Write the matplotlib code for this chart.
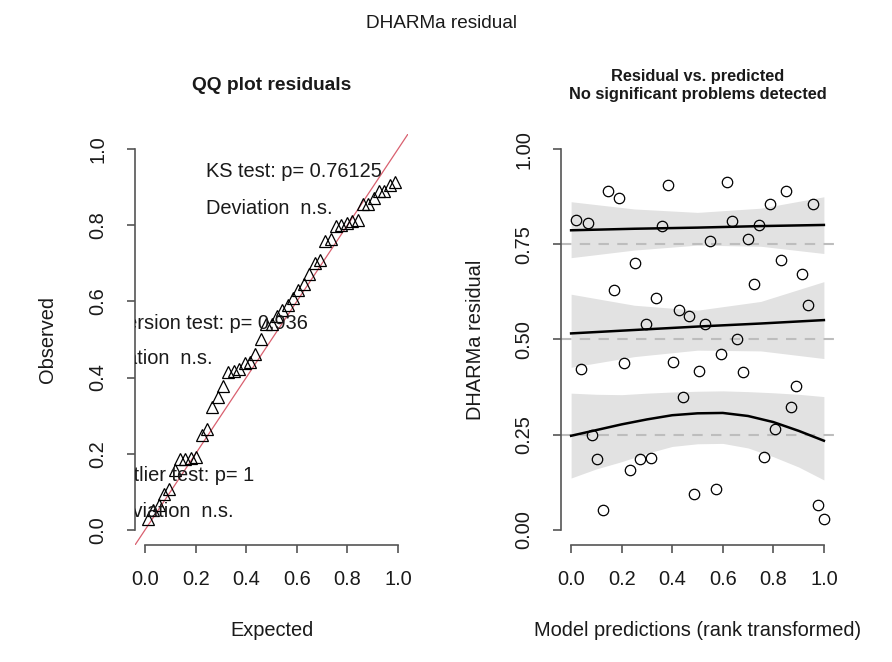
import numpy as np
import matplotlib
matplotlib.use("Agg")
import matplotlib.pyplot as plt

plt.rcParams['font.family'] = ['Liberation Sans', 'DejaVu Sans']

# scaled residuals against rank-transformed model predictions
pred_rank = [0.020, 0.065, 0.145, 0.188, 0.382, 0.361, 0.615, 0.638, 0.551, 0.700,
             0.744, 0.785, 0.849, 0.955, 0.253, 0.169, 0.337, 0.427, 0.465, 0.298,
             0.531, 0.829, 0.913, 0.723, 0.937, 0.657, 0.040, 0.211, 0.402, 0.507,
             0.594, 0.680, 0.443, 0.891, 0.870, 0.084, 0.806, 0.104, 0.274, 0.318,
             0.233, 0.764, 0.128, 0.486, 0.573, 0.978, 0.999]
residuals = [0.814, 0.805, 0.890, 0.873, 0.906, 0.799, 0.915, 0.812, 0.760, 0.764,
             0.801, 0.856, 0.891, 0.857, 0.700, 0.629, 0.608, 0.578, 0.563, 0.540,
             0.542, 0.710, 0.672, 0.647, 0.591, 0.500, 0.423, 0.439, 0.441, 0.418,
             0.461, 0.414, 0.350, 0.379, 0.322, 0.249, 0.265, 0.186, 0.186, 0.188,
             0.157, 0.192, 0.051, 0.094, 0.108, 0.066, 0.029]

# quantile regression fits (0.25, 0.5, 0.75) with confidence bands
q_x = [0.0, 0.25, 0.5, 0.75, 1.0]
q75_fit = [0.787, 0.791, 0.794, 0.798, 0.801]
q75_lo = [0.715, 0.735, 0.748, 0.745, 0.726]
q75_hi = [0.862, 0.843, 0.834, 0.845, 0.875]
q50_fit = [0.516, 0.525, 0.534, 0.542, 0.551]
q50_lo = [0.427, 0.455, 0.472, 0.470, 0.450]
q50_hi = [0.619, 0.590, 0.577, 0.600, 0.652]

q25_x = [0.0, 0.1, 0.2, 0.3, 0.4, 0.5, 0.6, 0.7, 0.8, 0.9, 1.0]
q25_fit = [0.247, 0.262, 0.277, 0.290, 0.301, 0.306, 0.307, 0.299, 0.283, 0.260, 0.234]
q25_lo = [0.136, 0.160, 0.179, 0.201, 0.219, 0.226, 0.227, 0.215, 0.192, 0.165, 0.131]
q25_hi = [0.359, 0.356, 0.355, 0.359, 0.362, 0.364, 0.365, 0.363, 0.360, 0.356, 0.350]

test_text = [
    (0.241, 0.942, "KS test: p= 0.76125"),
    (0.241, 0.843, "Deviation  n.s."),
    (-0.233, 0.543, "Dispersion test: p= 0.936"),
    (-0.233, 0.451, "Deviation  n.s."),
    (-0.150, 0.142, "Outlier test: p= 1"),
    (-0.150, 0.047, "Deviation  n.s."),
]

AXIS_COL = '#555555'
TXT_COL = '#1a1a1a'
FS = 14.4


def r_style(ax, yticks, yticklabels):
    # base-R look: open frame, axis lines only across the tick range
    ax.set_xlim(-0.04, 1.04)
    ax.set_ylim(-0.04, 1.04)
    for s in ['top', 'right']:
        ax.spines[s].set_visible(False)
    for s in ['left', 'bottom']:
        ax.spines[s].set_color(AXIS_COL)
        ax.spines[s].set_linewidth(1.2)
        ax.spines[s].set_bounds(0, 1)
    ax.set_xticks([0, 0.2, 0.4, 0.6, 0.8, 1.0])
    ax.set_xticklabels(['0.0', '0.2', '0.4', '0.6', '0.8', '1.0'])
    ax.set_yticks(yticks)
    ax.set_yticklabels(yticklabels, rotation=90, va='center')
    ax.tick_params(axis='both', colors=AXIS_COL, length=6, width=1.2,
                   labelsize=FS, labelcolor=TXT_COL)
    ax.tick_params(axis='x', pad=12)
    ax.tick_params(axis='y', pad=14)


fig = plt.figure(figsize=(8.92, 6.62), dpi=100)
ax1 = fig.add_axes([0.15135, 0.17674, 0.30605, 0.62085])
ax2 = fig.add_axes([0.62892, 0.17674, 0.30605, 0.62085])

# QQ plot
obs = np.sort(residuals)
n = len(obs)
expected = (np.arange(1, n + 1) - 0.5) / n
ax1.plot([-0.04, 1.04], [-0.04, 1.04], color='#d9606f', lw=0.9, zorder=1)
ax1.plot(expected, obs, linestyle='none', marker='^', markersize=8,
         markerfacecolor='none', markeredgecolor='black', markeredgewidth=0.9, zorder=2)
for x, y, s in test_text:
    ax1.text(x, y, s, fontsize=FS, color=TXT_COL, ha='left', va='center', clip_on=True)
r_style(ax1, [0, 0.2, 0.4, 0.6, 0.8, 1.0], ['0.0', '0.2', '0.4', '0.6', '0.8', '1.0'])
ax1.set_xlabel('Expected', fontsize=FS, color=TXT_COL)
ax1.set_ylabel('Observed', fontsize=FS, color=TXT_COL)
ax1.xaxis.set_label_coords(0.5, -0.207)
ax1.yaxis.set_label_coords(-0.322, 0.5)
ax1.xaxis.label.set_va('center')
ax1.yaxis.label.set_va('center')
ax1.text(0.5, 1.117, 'QQ plot residuals', transform=ax1.transAxes, ha='center',
         va='center', fontsize=13.8, fontweight='bold', color=TXT_COL)

# residual vs predicted
band_col = '#e2e2e2'
ax2.fill_between(q_x, q75_lo, q75_hi, color=band_col, lw=0, zorder=1)
ax2.fill_between(q_x, q50_lo, q50_hi, color=band_col, lw=0, zorder=1)
ax2.fill_between(q25_x, q25_lo, q25_hi, color=band_col, lw=0, zorder=1)
for q in [0.25, 0.5, 0.75]:
    ax2.axhline(q, color='#bdbdbd', lw=1.5, dashes=(5, 4), zorder=2)
ax2.plot(q_x, q75_fit, color='black', lw=1.8, zorder=3)
ax2.plot(q_x, q50_fit, color='black', lw=1.8, zorder=3)
ax2.plot(q25_x, q25_fit, color='black', lw=1.8, zorder=3)
ax2.plot(pred_rank, residuals, linestyle='none', marker='o', markersize=7.5,
         markerfacecolor='none', markeredgecolor='black', markeredgewidth=0.9, zorder=4)
r_style(ax2, [0, 0.25, 0.5, 0.75, 1.0], ['0.00', '0.25', '0.50', '0.75', '1.00'])
ax2.set_xlabel('Model predictions (rank transformed)', fontsize=FS, color=TXT_COL)
ax2.set_ylabel('DHARMa residual', fontsize=FS, color=TXT_COL)
ax2.xaxis.set_label_coords(0.5, -0.207)
ax2.yaxis.set_label_coords(-0.315, 0.5)
ax2.xaxis.label.set_va('center')
ax2.yaxis.label.set_va('center')
ax2.text(0.5, 1.139, 'Residual vs. predicted', transform=ax2.transAxes, ha='center',
         va='center', fontsize=11.8, fontweight='bold', color=TXT_COL)
ax2.text(0.5, 1.097, 'No significant problems detected', transform=ax2.transAxes,
         ha='center', va='center', fontsize=11.8, fontweight='bold', color=TXT_COL)

fig.text(0.495, 1 - 23 / 662, 'DHARMa residual', ha='center', va='center',
         fontsize=13.7, color=TXT_COL)

fig.savefig('out.png', dpi=100)
